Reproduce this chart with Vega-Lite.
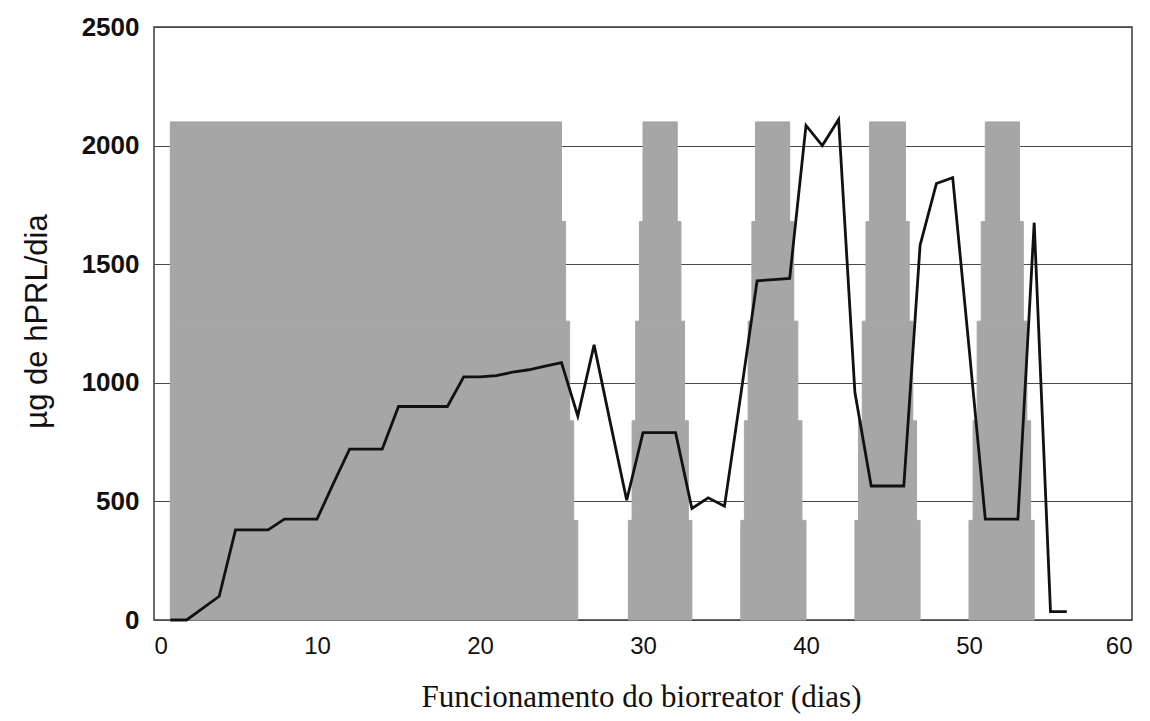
{
  "$schema": "https://vega.github.io/schema/vega-lite/v6.json",
  "autosize": "none",
  "width": 978,
  "height": 593,
  "padding": {"left": 154, "top": 27, "right": 18, "bottom": 101},
  "background": "white",
  "config": {
    "view": {"stroke": "#3a3a3a", "strokeWidth": 1.5},
    "axis": {"domain": false, "ticks": false}
  },
  "datasets": {
    "periods": [
      {"band": 1, "lo": 0, "hi": 420, "start": 1.0, "end": 26.0},
      {"band": 1, "lo": 420, "hi": 840, "start": 1.0, "end": 25.75},
      {"band": 1, "lo": 840, "hi": 1260, "start": 1.0, "end": 25.5},
      {"band": 1, "lo": 1260, "hi": 1680, "start": 1.0, "end": 25.25},
      {"band": 1, "lo": 1680, "hi": 2100, "start": 1.0, "end": 25.0},
      {"band": 2, "lo": 0, "hi": 420, "start": 29.1, "end": 33.0},
      {"band": 2, "lo": 420, "hi": 840, "start": 29.33, "end": 32.78},
      {"band": 2, "lo": 840, "hi": 1260, "start": 29.55, "end": 32.55},
      {"band": 2, "lo": 1260, "hi": 1680, "start": 29.78, "end": 32.33},
      {"band": 2, "lo": 1680, "hi": 2100, "start": 30.0, "end": 32.1},
      {"band": 3, "lo": 0, "hi": 420, "start": 36.0, "end": 40.0},
      {"band": 3, "lo": 420, "hi": 840, "start": 36.22, "end": 39.75},
      {"band": 3, "lo": 840, "hi": 1260, "start": 36.45, "end": 39.5},
      {"band": 3, "lo": 1260, "hi": 1680, "start": 36.68, "end": 39.25},
      {"band": 3, "lo": 1680, "hi": 2100, "start": 36.9, "end": 39.0},
      {"band": 4, "lo": 0, "hi": 420, "start": 43.0, "end": 47.0},
      {"band": 4, "lo": 420, "hi": 840, "start": 43.22, "end": 46.78},
      {"band": 4, "lo": 840, "hi": 1260, "start": 43.45, "end": 46.55},
      {"band": 4, "lo": 1260, "hi": 1680, "start": 43.68, "end": 46.33},
      {"band": 4, "lo": 1680, "hi": 2100, "start": 43.9, "end": 46.1},
      {"band": 5, "lo": 0, "hi": 420, "start": 50.0, "end": 54.0},
      {"band": 5, "lo": 420, "hi": 840, "start": 50.25, "end": 53.78},
      {"band": 5, "lo": 840, "hi": 1260, "start": 50.5, "end": 53.55},
      {"band": 5, "lo": 1260, "hi": 1680, "start": 50.75, "end": 53.33},
      {"band": 5, "lo": 1680, "hi": 2100, "start": 51.0, "end": 53.1}
    ],
    "production": [
      {"dia": 1, "hprl": 0}, {"dia": 2, "hprl": 0}, {"dia": 3, "hprl": 50},
      {"dia": 4, "hprl": 100}, {"dia": 5, "hprl": 380}, {"dia": 6, "hprl": 380},
      {"dia": 7, "hprl": 380}, {"dia": 8, "hprl": 425}, {"dia": 9, "hprl": 425},
      {"dia": 10, "hprl": 425}, {"dia": 11, "hprl": 575}, {"dia": 12, "hprl": 720},
      {"dia": 13, "hprl": 720}, {"dia": 14, "hprl": 720}, {"dia": 15, "hprl": 900},
      {"dia": 16, "hprl": 900}, {"dia": 17, "hprl": 900}, {"dia": 18, "hprl": 900},
      {"dia": 19, "hprl": 1025}, {"dia": 20, "hprl": 1025}, {"dia": 21, "hprl": 1030},
      {"dia": 22, "hprl": 1045}, {"dia": 23, "hprl": 1055}, {"dia": 24, "hprl": 1070},
      {"dia": 25, "hprl": 1085}, {"dia": 26, "hprl": 860}, {"dia": 27, "hprl": 1160},
      {"dia": 28, "hprl": 830}, {"dia": 29, "hprl": 505}, {"dia": 30, "hprl": 790},
      {"dia": 31, "hprl": 790}, {"dia": 32, "hprl": 790}, {"dia": 33, "hprl": 470},
      {"dia": 34, "hprl": 515}, {"dia": 35, "hprl": 480}, {"dia": 36, "hprl": 950},
      {"dia": 37, "hprl": 1430}, {"dia": 38, "hprl": 1435}, {"dia": 39, "hprl": 1440},
      {"dia": 40, "hprl": 2085}, {"dia": 41, "hprl": 2000}, {"dia": 42, "hprl": 2110},
      {"dia": 43, "hprl": 960}, {"dia": 44, "hprl": 565}, {"dia": 45, "hprl": 565},
      {"dia": 46, "hprl": 565}, {"dia": 47, "hprl": 1580}, {"dia": 48, "hprl": 1840},
      {"dia": 49, "hprl": 1865}, {"dia": 50, "hprl": 1150}, {"dia": 51, "hprl": 425},
      {"dia": 52, "hprl": 425}, {"dia": 53, "hprl": 425}, {"dia": 54, "hprl": 1675},
      {"dia": 55, "hprl": 35}, {"dia": 56, "hprl": 35}
    ]
  },
  "layer": [
    {
      "data": {"name": "periods"},
      "mark": {"type": "rect", "color": "#a6a6a6", "stroke": "#a6a6a6", "strokeWidth": 1, "opacity": 1},
      "encoding": {
        "x": {
          "field": "start", "type": "quantitative",
          "scale": {"domain": [0, 60], "nice": false, "zero": false},
          "axis": {
            "values": [0, 10, 20, 30, 40, 50, 60],
            "format": "d",
            "grid": false,
            "labelFont": "Liberation Sans",
            "labelFontSize": 24,
            "labelColor": "#111",
            "labelPadding": 14,
            "title": "Funcionamento do biorreator (dias)",
            "titleFont": "Liberation Serif",
            "titleFontSize": 31,
            "titleFontWeight": "normal",
            "titleColor": "#111",
            "titleX": 487,
            "titleY": 77,
            "titleBaseline": "middle",
            "titleAlign": "center"
          }
        },
        "x2": {"field": "end"},
        "y": {
          "field": "lo", "type": "quantitative",
          "scale": {"domain": [0, 2500], "nice": false},
          "axis": {
            "values": [0, 500, 1000, 1500, 2000, 2500],
            "format": "d",
            "grid": true,
            "gridColor": "#4a4a4a",
            "gridWidth": 1.2,
            "labelFont": "Liberation Sans",
            "labelFontWeight": "bold",
            "labelFontSize": 26,
            "labelColor": "#111",
            "labelPadding": 15,
            "title": "µg de hPRL/dia",
            "titleFont": "Liberation Sans",
            "titleFontSize": 31,
            "titleFontWeight": "normal",
            "titleColor": "#111",
            "titleAngle": 270,
            "titleX": -117,
            "titleY": 294,
            "titleAlign": "center",
            "titleBaseline": "middle"
          }
        },
        "y2": {"field": "hi"}
      }
    },
    {
      "data": {"name": "production"},
      "mark": {"type": "line", "color": "#111", "strokeWidth": 2.8, "strokeJoin": "miter"},
      "encoding": {
        "x": {"field": "dia", "type": "quantitative"},
        "y": {"field": "hprl", "type": "quantitative"}
      }
    }
  ]
}
